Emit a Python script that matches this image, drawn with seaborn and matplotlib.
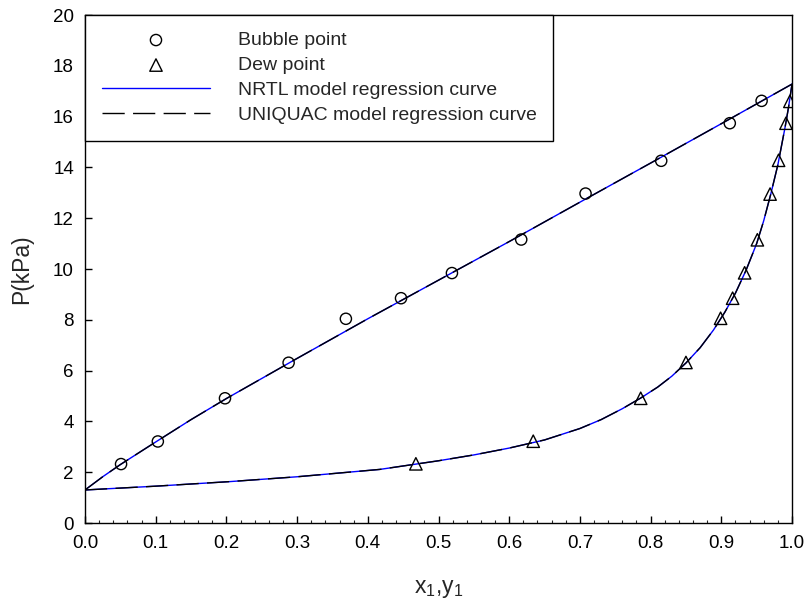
import matplotlib
matplotlib.use("Agg")
import matplotlib.pyplot as plt
from matplotlib.ticker import MultipleLocator
import seaborn as sns
import pandas as pd

# Experimental data
bubble_x = [0.051, 0.103, 0.198, 0.288, 0.369, 0.447, 0.519, 0.617, 0.708, 0.815, 0.912, 0.957]
bubble_p = [2.32, 3.21, 4.91, 6.31, 8.04, 8.85, 9.84, 11.16, 12.97, 14.26, 15.74, 16.62]
dew_y = [0.468, 0.634, 0.786, 0.850, 0.899, 0.916, 0.933, 0.951, 0.969, 0.981, 0.9915, 0.997]
dew_p = [2.33, 3.22, 4.91, 6.32, 8.06, 8.85, 9.85, 11.15, 12.95, 14.28, 15.74, 16.60]

# Model regression curves
bub_curve_x = [0.0, 0.025, 0.05, 0.1, 0.15, 0.2, 0.3, 0.4, 0.5, 0.6, 0.7, 0.8, 0.9, 1.0]
bub_curve_p = [1.30, 1.82, 2.30, 3.19, 4.07, 4.90, 6.48, 8.04, 9.56, 11.08, 12.63, 14.17, 15.72, 17.28]
dew_curve_y = [0.0, 0.1, 0.205, 0.3, 0.417, 0.5, 0.55, 0.6, 0.65, 0.7, 0.73, 0.76, 0.786, 0.81,
               0.83, 0.85, 0.87, 0.889, 0.905, 0.92, 0.935, 0.95, 0.96, 0.97, 0.98, 0.99, 0.995, 1.0]
dew_curve_p = [1.30, 1.45, 1.63, 1.82, 2.11, 2.45, 2.68, 2.95, 3.27, 3.72, 4.07, 4.50, 4.92, 5.35,
               5.78, 6.30, 6.90, 7.60, 8.30, 9.05, 9.95, 11.00, 11.90, 12.95, 14.10, 15.55, 16.35, 17.28]

labels = ["Bubble point", "Dew point", "NRTL model regression curve", "UNIQUAC model regression curve"]

sns.set_theme(style="white")
plt.rcParams['font.family'] = ['Liberation Sans', 'DejaVu Sans']
plt.rcParams['mathtext.fontset'] = 'custom'
plt.rcParams['mathtext.rm'] = 'Liberation Sans'
plt.rcParams['mathtext.it'] = 'Liberation Sans'

fig = plt.figure(figsize=(8.09, 6.07), dpi=100)
ax = fig.add_axes([85/809, 84/607, 707/809, 508/607])

bub = pd.DataFrame({"x": bub_curve_x, "p": bub_curve_p})
dew = pd.DataFrame({"x": dew_curve_y, "p": dew_curve_p})

# NRTL (blue solid)
sns.lineplot(data=bub, x="x", y="p", ax=ax, color="#0000ff", lw=1.0, sort=False,
             estimator=None, label=labels[2])
sns.lineplot(data=dew, x="x", y="p", ax=ax, color="#0000ff", lw=1.0, sort=False,
             estimator=None, label="_nolegend_")
# UNIQUAC (black dashed)
sns.lineplot(data=bub, x="x", y="p", ax=ax, color="black", lw=1.0, sort=False,
             estimator=None, label=labels[3])
sns.lineplot(data=dew, x="x", y="p", ax=ax, color="black", lw=1.0, sort=False,
             estimator=None, label="_nolegend_")
for ln in ax.lines[2:4]:
    ln.set_dashes((16, 6))

sns.scatterplot(x=bubble_x, y=bubble_p, ax=ax, marker="o", s=65, facecolor="none",
                edgecolor="black", linewidth=1.0, label=labels[0], zorder=5)
sns.scatterplot(x=dew_y, y=dew_p, ax=ax, marker="^", s=80, facecolor="none",
                edgecolor="black", linewidth=1.0, label=labels[1], zorder=5)

ax.set_xlim(0, 1.0)
ax.set_ylim(0, 20)
ax.xaxis.set_major_locator(MultipleLocator(0.1))
ax.xaxis.set_minor_locator(MultipleLocator(0.02))
ax.yaxis.set_major_locator(MultipleLocator(2))
ax.set_xticklabels([f"{v:.1f}" for v in ax.get_xticks()])
ax.tick_params(axis="both", which="major", direction="in", length=5, width=1,
               labelsize=13.5, colors="black", bottom=True, left=True, top=False, right=False)
ax.tick_params(axis="x", which="major", pad=9)
ax.tick_params(axis="y", which="major", pad=8)
ax.tick_params(axis="x", which="minor", direction="in", length=2.5, width=0.8, bottom=True, top=False)
for sp in ax.spines.values():
    sp.set_color("black")
    sp.set_linewidth(1.0)

ax.set_xlabel("x$_1$,y$_1$", fontsize=16.5, labelpad=18)
ax.set_ylabel("P(kPa)", fontsize=16.5, labelpad=14)

h, l = ax.get_legend_handles_labels()
d = dict(zip(l, h))
leg = ax.legend([d[k] for k in labels], labels, loc="upper left", borderaxespad=0,
                fontsize=14, frameon=True, fancybox=False, edgecolor="black",
                handlelength=5.6, handletextpad=1.4, labelspacing=0.38, borderpad=0.85,
                scatterpoints=1)
leg.get_frame().set_linewidth(1.0)
leg.get_frame().set_alpha(1)

fig.savefig("out.png", dpi=100)
